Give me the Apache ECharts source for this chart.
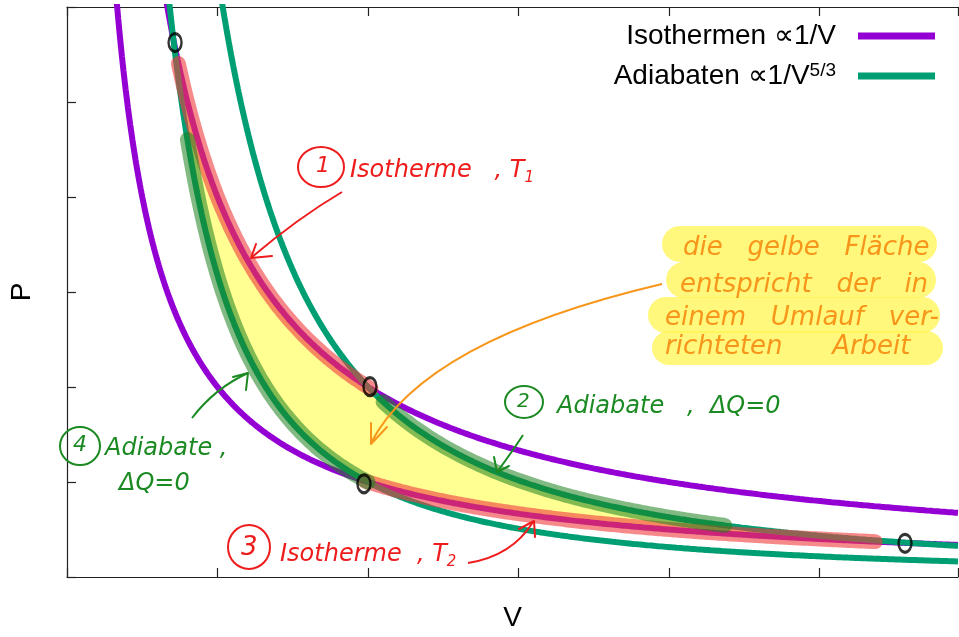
<!DOCTYPE html>
<html><head><meta charset="utf-8">
<script src="https://cdn.jsdelivr.net/npm/echarts@6/dist/echarts.min.js"></script>
<style>html,body{margin:0;padding:0;background:#fff}#c{width:959px;height:637px}</style>
</head><body><div id="c"></div>
<script>
// ---------------- data ----------------
const xRange = [0, 5.92];
const yRange = [0, 6];
const axisNames = ['V', 'P'];
const legendNames = ['Isothermen', 'Adiabaten'];
const legendLabels = ['Isothermen \u221D1/V', 'Adiabaten \u221D1/V{sup|5/3}'];
const isothermK = [2, 4];          // P·V = K   (T2, T1)
const adiabatK = [3.175, 6.35];    // P·V^(5/3) = K
const kappa = 5 / 3;
// corner points of the cycle as marked by hand (V, P)
const cornerV = [0.718, 2.013, 1.973, 5.568];
const cornerP = [5.626, 2.004, 0.981, 0.355];
// highlighter strokes: [curve constant index, V from, V to]
const redStrokes = [[1, 0.74, 2.02], [0, 1.98, 5.37]];
const greenStrokes = [[0, 0.80, 2.00], [1, 2.10, 4.37]];

// sample volumes for evaluating the curves
const vSamples = [];
for (let v = 0.25; v <= 5.921; v += 0.005) vSamples.push(+v.toFixed(3));

const isoP = (k, v) => k / v;
const adiP = (k, v) => k / Math.pow(v, kappa);
const curve = (f, k, a, b) => vSamples.filter(v => v >= a && v <= b).map(v => [v, f(k, v)]);

// cycle polygon (yellow area)
const vAB = [Math.pow(adiabatK[0] / isothermK[1], 1 / (kappa - 1)), Math.pow(adiabatK[1] / isothermK[1], 1 / (kappa - 1))];
const vCD = [Math.pow(adiabatK[0] / isothermK[0], 1 / (kappa - 1)), Math.pow(adiabatK[1] / isothermK[0], 1 / (kappa - 1))];
const cyclePts = []
  .concat(curve(isoP, isothermK[1], vAB[0], vAB[1]))
  .concat(curve(adiP, adiabatK[1], vAB[1], vCD[1]))
  .concat(curve(isoP, isothermK[0], vCD[0], vCD[1]).reverse())
  .concat(curve(adiP, adiabatK[0], vAB[0], vCD[0]).reverse());

const PURPLE = '#9400d3', GREEN = '#009e73';
const RED = '#ee1c1c', PGREEN = '#1b8a22', ORANGE = '#f7961a';

const series = [];
series.push({
  type: 'custom', name: 'area', z: 1, silent: true,
  data: cyclePts,
  renderItem: (params, api) => {
    if (params.dataIndex !== 0) return null;
    return { type: 'polygon', shape: { points: cyclePts.map(p => api.coord(p)) },
      style: { fill: 'rgba(255,255,90,0.66)' } };
  }
});
isothermK.forEach(k => series.push({
  type: 'line', name: legendNames[0], color: PURPLE, z: 2, showSymbol: false, symbol: 'none', silent: true,
  lineStyle: { width: 6, color: PURPLE }, data: curve(isoP, k, k / 7, 6)
}));
adiabatK.forEach(k => series.push({
  type: 'line', name: legendNames[1], color: GREEN, z: 2, showSymbol: false, symbol: 'none', silent: true,
  lineStyle: { width: 6, color: GREEN }, data: curve(adiP, k, Math.pow(k / 7, 0.6), 6)
}));
redStrokes.forEach((s, i) => series.push({
  type: 'line', name: 'hlr' + i, z: 3, showSymbol: false, symbol: 'none', silent: true,
  lineStyle: { width: 15, color: 'rgba(240,60,60,0.6)', cap: 'round', join: 'round' },
  data: curve(isoP, isothermK[s[0]], s[1], s[2])
}));
greenStrokes.forEach((s, i) => series.push({
  type: 'line', name: 'hlg' + i, z: 3, showSymbol: false, symbol: 'none', silent: true,
  lineStyle: { width: 15, color: 'rgba(30,130,30,0.55)', cap: 'round', join: 'round' },
  data: curve(adiP, adiabatK[s[0]], s[1], s[2])
}));
series.push({
  type: 'scatter', name: 'corners', z: 4, silent: true, symbol: 'circle', symbolSize: [13, 18],
  itemStyle: { color: 'rgba(0,0,0,0)', borderColor: '#000', borderWidth: 2.8 },
  data: cornerV.map((v, i) => [v, cornerP[i]])
});

// ---------------- annotations ----------------
const HW = 'DejaVu Sans';
function txt(text, x, y, color, size, extra) {
  return Object.assign({ type: 'text', z: 100, silent: true, x, y,
    style: Object.assign({ text, fill: color, fontFamily: HW, fontStyle: 'italic', fontSize: size,
      align: 'left', verticalAlign: 'middle' }, extra || {}) });
}
function ring(cx, cy, rx, ry, color) {
  return { type: 'ellipse', z: 100, silent: true, shape: { cx, cy, rx, ry },
    style: { fill: 'none', stroke: color, lineWidth: 2 } };
}
function bez(x1, y1, cx, cy, x2, y2, color) {
  return { type: 'bezierCurve', z: 100, silent: true, shape: { x1, y1, cpx1: cx, cpy1: cy, x2, y2 },
    style: { fill: 'none', stroke: color, lineWidth: 2 } };
}
function head(pts, color) {
  return { type: 'polyline', z: 100, silent: true, shape: { points: pts },
    style: { fill: 'none', stroke: color, lineWidth: 2, lineCap: 'round', lineJoin: 'round' } };
}
function bar(x, y, w, h) {
  return { type: 'rect', z: 99, silent: true, shape: { x, y, width: w, height: h, r: h / 2 },
    style: { fill: 'rgba(255,245,80,0.75)' } };
}
const subStyle = c => ({ rich: { s: { fontSize: 15, fill: c, fontFamily: HW, fontStyle: 'italic', padding: [14, 0, 0, 0] } } });

const graphics = [
  // 1 Isotherme T1
  ring(321, 167, 23, 20, RED), txt('1', 316, 166, RED, 22),
  txt('Isotherme   , T{s|1}', 350, 171, RED, 24, subStyle(RED)),
  bez(342, 192, 298, 218, 252, 257, RED), head([[256, 244], [251, 258], [272, 256]], RED),
  // 2 Adiabate
  ring(524, 402, 19, 16, PGREEN), txt('2', 517, 402, PGREEN, 20),
  txt('Adiabate   ,  \u0394Q=0', 557, 407, PGREEN, 24),
  bez(523, 435, 512, 452, 497, 472, PGREEN), head([[494, 457], [497, 472], [509, 466]], PGREEN),
  // 3 Isotherme T2
  ring(249, 547, 21, 22, RED), txt('3', 241, 548, RED, 26),
  txt('Isotherme  , T{s|2}', 280, 555, RED, 24, subStyle(RED)),
  bez(468, 563, 512, 556, 533, 522, RED), head([[519, 529], [534, 521], [535, 537]], RED),
  // 4 Adiabate
  ring(80, 446, 20, 19, PGREEN), txt('4', 73, 445, PGREEN, 22),
  txt('Adiabate ,', 105, 449, PGREEN, 24),
  txt('\u0394Q=0', 119, 484, PGREEN, 24),
  bez(192, 418, 215, 388, 248, 373, PGREEN), head([[233, 377], [248, 373], [246, 390]], PGREEN),
  // yellow note
  bar(662, 226, 275, 36), bar(666, 262, 270, 36), bar(648, 297, 292, 36), bar(652, 331, 291, 34),
  txt('die   gelbe   Fl\u00e4che', 683, 248, ORANGE, 26),
  txt('entspricht   der   in', 680, 285, ORANGE, 26),
  txt('einem   Umlauf   ver-', 665, 318, ORANGE, 26),
  txt('richteten      Arbeit', 665, 347, ORANGE, 26),
  bez(662, 284, 424, 340, 371, 443, ORANGE), head([[387, 427], [371, 444], [371, 423]], ORANGE)
];

const axisCommon = {
  type: 'value', interval: 1,
  axisLine: { show: true, onZero: false, lineStyle: { color: '#222', width: 1.2 } },
  axisTick: { show: true, inside: true, length: 9, lineStyle: { color: '#222', width: 1.2 } },
  axisLabel: { show: false }, splitLine: { show: false }
};
const nameStyle = { fontSize: 28, fontFamily: 'Liberation Sans', color: '#000' };

const chart = echarts.init(document.getElementById('c'), null, { renderer: 'canvas' });
chart.setOption({
  animation: false,
  backgroundColor: '#fff',
  grid: { left: 67, right: 1, top: 7, bottom: 55 },
  xAxis: [
    Object.assign({}, axisCommon, { min: xRange[0], max: xRange[1], position: 'bottom',
      name: axisNames[0], nameLocation: 'middle', nameGap: 27, nameTextStyle: nameStyle }),
    Object.assign({}, axisCommon, { min: xRange[0], max: xRange[1], position: 'top' })
  ],
  yAxis: [Object.assign({}, axisCommon, { min: yRange[0], max: yRange[1], position: 'left',
    name: axisNames[1], nameLocation: 'middle', nameGap: 31, nameRotate: 90, nameTextStyle: nameStyle })],
  legend: {
    data: legendNames, orient: 'vertical', right: 24, top: 21, padding: 0, itemGap: 10,
    align: 'right', icon: 'rect', itemWidth: 77, itemHeight: 7, selectedMode: false,
    formatter: n => legendLabels[legendNames.indexOf(n)],
    textStyle: { fontSize: 28, fontFamily: 'Liberation Sans', color: '#000', width: 245, align: 'right',
      lineHeight: 30, padding: [0, 17, 0, 0],
      rich: { sup: { fontSize: 19, fontFamily: 'Liberation Sans', color: '#000', verticalAlign: 'top', lineHeight: 16 } } }
  },
  series,
  graphic: graphics
});
</script></body></html>
